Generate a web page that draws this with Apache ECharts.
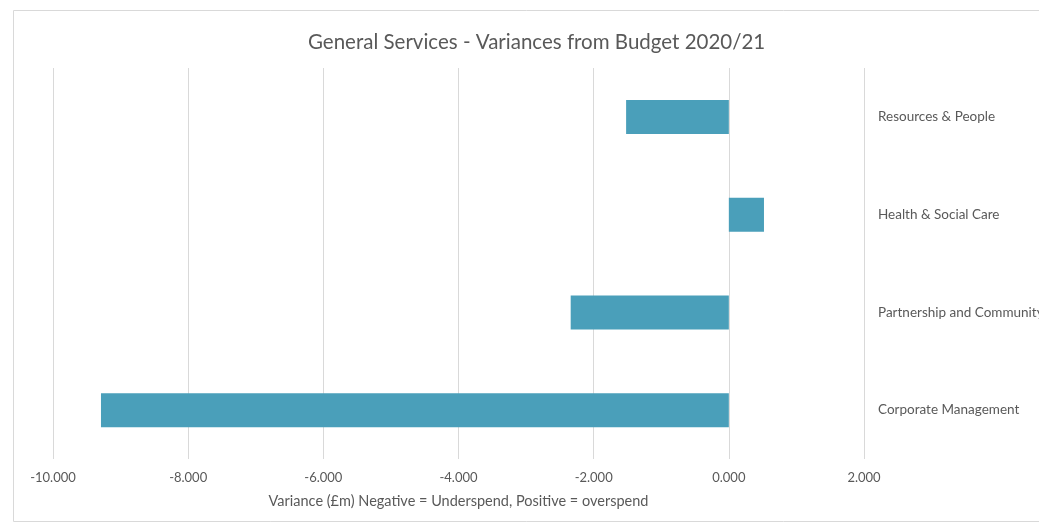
<!DOCTYPE html>
<html>
<head>
<meta charset="utf-8">
<script src="https://cdn.jsdelivr.net/npm/echarts@6/dist/echarts.min.js"></script>
<style>
  html, body { margin: 0; padding: 0; background: #fff; }
  #chart { width: 1039px; height: 524px; }
</style>
</head>
<body>
<div id="chart"></div>
<script>
// services, top to bottom
const services = ['Resources & People', 'Health & Social Care', 'Partnership and Community', 'Corporate Management']
// variance in £m
const variances = [-1.52, 0.52, -2.34, -9.29]

const chart = echarts.init(document.getElementById('chart'))
chart.setOption({
  animation: false,
  textStyle: { fontFamily: 'Lato, "Open Sans", sans-serif' },
  title: {
    text: 'General Services - Variances from Budget 2020/21',
    left: 303,
    top: 27,
    textStyle: { fontSize: 20.5, fontWeight: 'normal', color: '#595959' }
  },
  graphic: [{
    type: 'rect',
    shape: { x: 13.5, y: 10.5, width: 1040, height: 511 },
    style: { fill: 'none', stroke: '#d9d9d9', lineWidth: 1 },
    silent: true
  }],
  grid: { left: 53, right: 175, top: 68, bottom: 65, outerBoundsMode: 'none' },
  xAxis: {
    type: 'value',
    min: -10,
    max: 2,
    interval: 2,
    name: 'Variance (£m) Negative = Underspend, Positive = overspend',
    nameLocation: 'middle',
    nameGap: 35,
    nameTextStyle: { fontSize: 14.5, color: '#595959' },
    axisLine: { show: false },
    axisTick: { show: false },
    axisLabel: {
      margin: 12,
      fontSize: 13,
      color: '#595959',
      formatter: v => v.toFixed(3)
    },
    splitLine: { lineStyle: { color: '#d9d9d9' } }
  },
  yAxis: {
    type: 'category',
    data: services,
    inverse: true,
    position: 'right',
    axisLine: { show: false },
    axisTick: { show: false },
    axisLabel: { align: 'left', margin: 14, fontSize: 13.5, color: '#595959' }
  },
  series: [{
    type: 'bar',
    data: variances,
    barWidth: 34,
    itemStyle: { color: '#4a9fba' }
  }]
})
</script>
</body>
</html>
